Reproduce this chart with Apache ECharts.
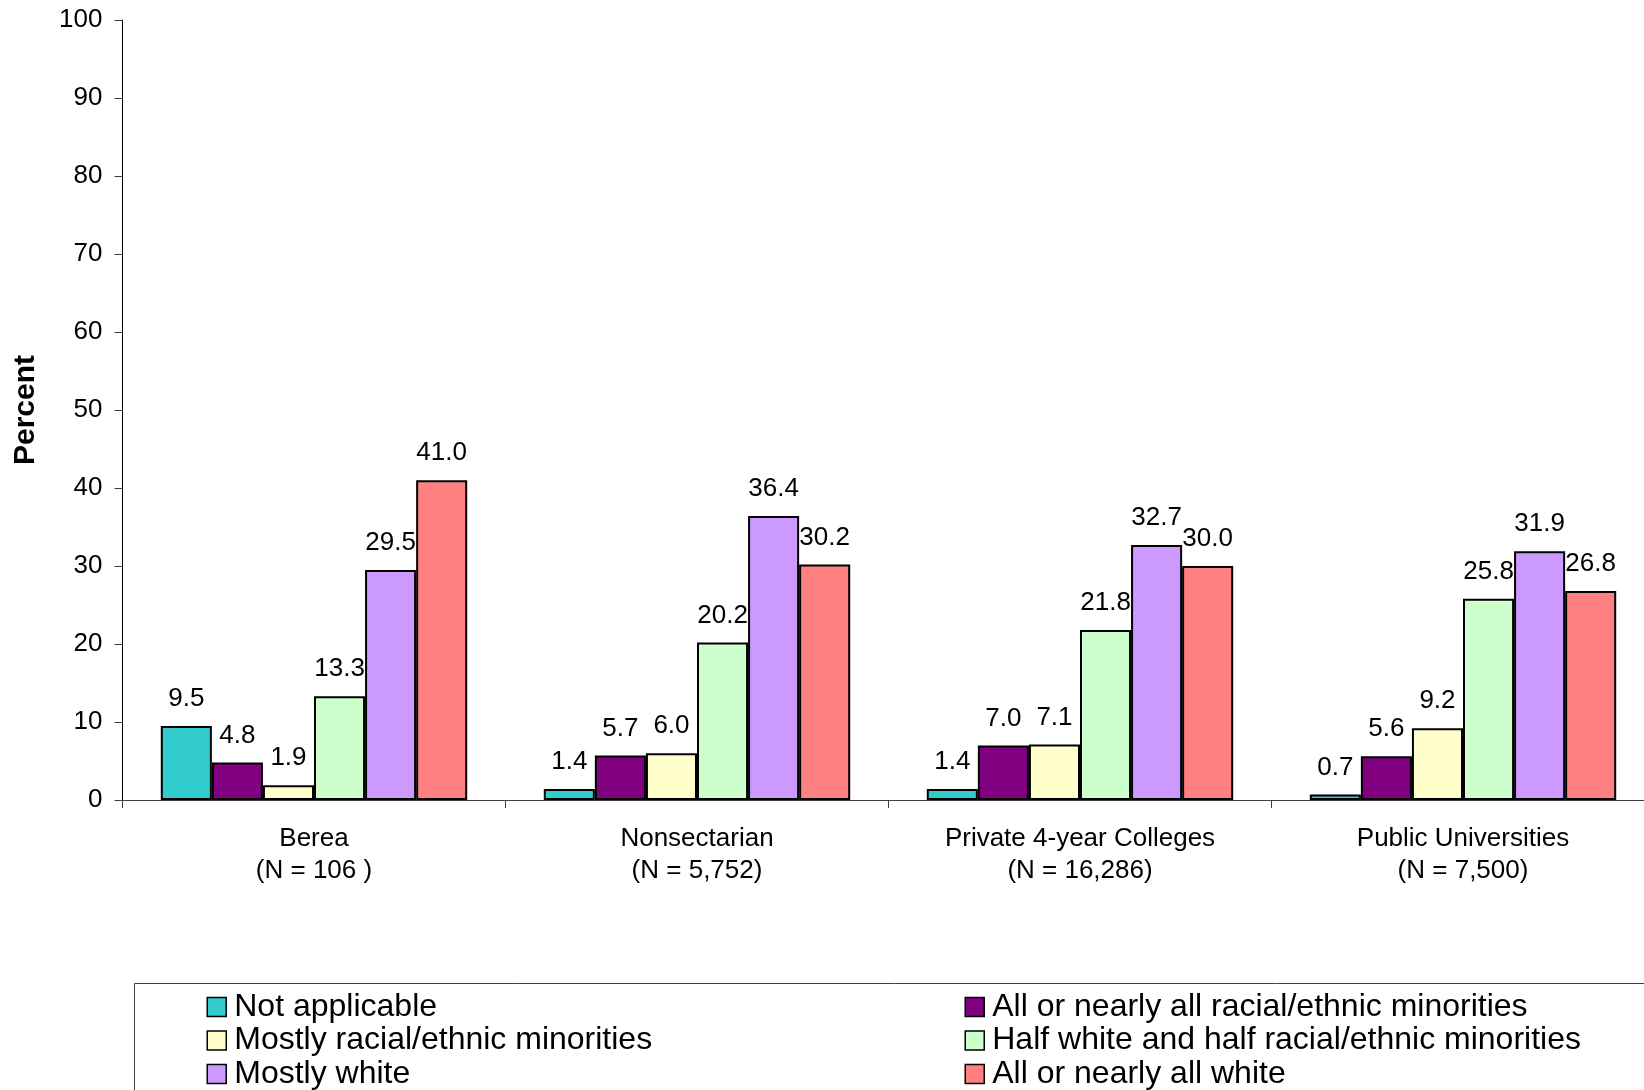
<!DOCTYPE html>
<html>
<head>
<meta charset="utf-8">
<script src="https://cdn.jsdelivr.net/npm/echarts@6/dist/echarts.min.js"></script>
<style>
  html, body { margin: 0; padding: 0; background: #fff; overflow: hidden; width: 1644px; height: 1090px; }
  /* the plot runs slightly past the right edge of the page */
  #chart { width: 1655px; height: 1090px; }
</style>
</head>
<body>
<div id="chart"></div>
<script>
// Institution groups (x axis)
const categories = [
  'Berea\n(N = 106 )',
  'Nonsectarian\n(N = 5,752)',
  'Private 4-year Colleges\n(N = 16,286)',
  'Public Universities\n(N = 7,500)'
];

// Percent of respondents by racial/ethnic makeup
const notApplicable = [9.5, 1.4, 1.4, 0.7];
const allMinorities = [4.8, 5.7, 7.0, 5.6];
const mostlyMinorities = [1.9, 6.0, 7.1, 9.2];
const halfAndHalf = [13.3, 20.2, 21.8, 25.8];
const mostlyWhite = [29.5, 36.4, 32.7, 31.9];
const allWhite = [41.0, 30.2, 30.0, 26.8];

const yTicks = { min: 0, max: 100, interval: 10 };

const FONT = '"Liberation Sans", Arial, sans-serif';

const seriesDefs = [
  { name: 'Not applicable', data: notApplicable, color: '#33CCCC' },
  { name: 'All or nearly all racial/ethnic minorities', data: allMinorities, color: '#800080' },
  { name: 'Mostly racial/ethnic minorities', data: mostlyMinorities, color: '#FFFFCC' },
  { name: 'Half white and half racial/ethnic minorities', data: halfAndHalf, color: '#CCFFCC' },
  { name: 'Mostly white', data: mostlyWhite, color: '#CC99FF' },
  { name: 'All or nearly all white', data: allWhite, color: '#FF8080' }
];

const chart = echarts.init(document.getElementById('chart'), null, { renderer: 'canvas' });

const legendText = { fontFamily: FONT, fontSize: 32, color: '#000', lineHeight: 32, padding: [0, 0, 0, 3] };

const legendCommon = {
  orient: 'vertical', top: 991, height: 300, padding: 0,
  itemWidth: 19, itemHeight: 19, itemGap: 1.5, icon: 'rect',
  itemStyle: { borderColor: '#000', borderWidth: 1.5 },
  textStyle: legendText
};

chart.setOption({
  animation: false,
  backgroundColor: '#fff',
  grid: { left: 122.5, top: 20, bottom: 290, right: 0.5, containLabel: false },
  xAxis: {
    type: 'category',
    data: categories,
    axisLine: { lineStyle: { color: '#404040', width: 1 } },
    axisTick: { show: true, length: 8, lineStyle: { color: '#404040' } },
    axisLabel: {
      fontFamily: FONT, fontSize: 26, color: '#000',
      lineHeight: 32, margin: 23, interval: 0
    }
  },
  yAxis: {
    type: 'value',
    min: yTicks.min, max: yTicks.max, interval: yTicks.interval,
    name: 'Percent',
    nameLocation: 'middle',
    nameGap: 82,
    nameTextStyle: { fontFamily: FONT, fontSize: 30, fontWeight: 'bold', color: '#000' },
    splitLine: { show: false },
    axisLine: { show: true, lineStyle: { color: '#000', width: 1 } },
    axisTick: { show: true, length: 8, lineStyle: { color: '#404040' } },
    axisLabel: { fontFamily: FONT, fontSize: 26, color: '#000', margin: 20 }
  },
  legend: [
    Object.assign({}, legendCommon, {
      left: 206.5,
      data: ['Not applicable', 'Mostly racial/ethnic minorities', 'Mostly white']
    }),
    Object.assign({}, legendCommon, {
      left: 964.5,
      data: ['All or nearly all racial/ethnic minorities', 'Half white and half racial/ethnic minorities', 'All or nearly all white']
    })
  ],
  graphic: [
    {
      type: 'rect', left: 132, top: 981, z: -1,
      shape: { width: 1540, height: 130 },
      style: { fill: 'none', stroke: '#404040', lineWidth: 1 }
    }
  ],
  series: seriesDefs.map(s => ({
    name: s.name,
    type: 'bar',
    data: s.data,
    barGap: '0%',
    barCategoryGap: '20%',
    itemStyle: { color: s.color, borderColor: '#000', borderWidth: 2 },
    label: {
      show: true, position: 'top', distance: 14,
      fontFamily: FONT, fontSize: 26, color: '#000',
      formatter: p => p.value.toFixed(1)
    }
  }))
});
</script>
</body>
</html>
